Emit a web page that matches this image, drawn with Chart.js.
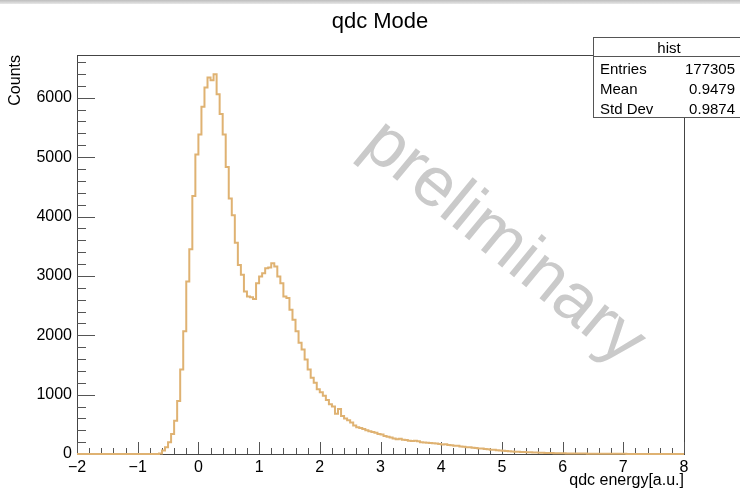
<!DOCTYPE html>
<html>
<head>
<meta charset="utf-8">
<title>qdc Mode</title>
<script src="https://cdn.jsdelivr.net/npm/chart.js@4.4.0/dist/chart.umd.min.js"></script>
<style>
  html, body { margin: 0; padding: 0; background: #fff; }
  #wrap { position: relative; width: 740px; height: 490px; }
  #topStrip { position: absolute; left: 0; top: 0; width: 740px; height: 4px;
    background: linear-gradient(#bdbdbd, #e8e8e8); }
</style>
</head>
<body>
<div id="wrap">
  <canvas id="histChart" width="740" height="490"></canvas>
  <div id="topStrip"></div>
</div>
<script>
// histogram: 200 bins of 0.05 between -2 and 8
const xRange = [-2, 8];
const binWidth = 0.05;
const counts = [
  // -2 .. -1
  0,0,0,0,0,0,0,0,0,0, 0,0,0,0,0,0,0,0,0,0,
  // -1 .. 0
  0,0,0,0,0,0,0,0,10,60, 112,196,335,558,893,1425,2067,2905,3447,4346,
  // 0 .. 1
  5044,5380,5849,6172,6340,6296,6397,6060,5726,5380, 4832,4302,4022,3558,3184,3017,2737,2653,2640,2609,
  // 1 .. 2
  2877,2988,3045,3129,3140,3213,3156,2988,2877,2653, 2626,2430,2262,2067,1872,1760,1592,1425,1285,1201,
  // 2 .. 3
  1090,1040,980,910,840,800,680,760,640,600, 570,530,480,450,440,420,400,385,370,360,
  // 3 .. 4
  335,330,305,290,280,260,250,255,240,235, 225,220,225,215,200,195,190,185,180,175,
  // 4 .. 5
  170,160,165,150,148,138,140,126,124,115, 112,104,102,93,92,84,80,73,70,63,
  // 5 .. 6
  58,55,50,46,43,40,38,35,32,30, 28,26,24,22,20,18,17,16,14,13,
  // 6 .. 7
  12,11,10,9,9,8,8,7,7,6, 6,5,5,5,4,4,4,3,3,3,
  // 7 .. 8
  3,3,2,2,2,2,2,1,1,1, 1,1,1,1,0,1,0,0,0,0
];
const yMax = 6720;
const xTickValues = [-2, -1, 0, 1, 2, 3, 4, 5, 6, 7, 8];
const yTickValues = [0, 1000, 2000, 3000, 4000, 5000, 6000];
const xMinorStep = 0.2;
const yMinorStep = 200;

const titleText = "qdc Mode";
const xTitle = "qdc energy[a.u.]";
const yTitle = "Counts";
const statsName = "hist";
const statLabels = ["Entries", "Mean", "Std Dev"];
const statValues = ["177305", "0.9479", "0.9874"];
const watermark = "preliminary";

const FONT = "'Liberation Sans', Arial, Helvetica, sans-serif";
const lineColor = "#dfb272";

// bin low edges + closing edge for the step line
const points = counts.map((c, i) => ({ x: xRange[0] + i * binWidth, y: c }));
points.push({ x: xRange[1], y: counts[counts.length - 1] });

function fmt(v) {
  return v < 0 ? "\u2212" + Math.abs(v) : String(v);
}

const rootStyle = {
  id: "rootStyle",
  beforeDatasetsDraw(chart) {
    const ctx = chart.ctx;
    const a = chart.chartArea;
    const xs = chart.scales.x, ys = chart.scales.y;
    ctx.save();

    // watermark
    ctx.save();
    ctx.translate(503, 243);
    ctx.rotate(39.5 * Math.PI / 180);
    ctx.font = "70px " + FONT;
    ctx.fillStyle = "#cacaca";
    ctx.textAlign = "center";
    ctx.textBaseline = "middle";
    ctx.fillText(watermark, 0, 0);
    ctx.restore();

    // frame
    ctx.strokeStyle = "#444";
    ctx.lineWidth = 1;
    ctx.strokeRect(Math.round(a.left) + 0.5, Math.round(a.top) + 0.5,
      Math.round(a.right - a.left), Math.round(a.bottom - a.top));

    // ticks inside the frame
    ctx.strokeStyle = "#555";
    ctx.beginPath();
    for (let i = 0; i * yMinorStep <= yMax; i++) {
      const y = Math.round(ys.getPixelForValue(i * yMinorStep)) + 0.5;
      const len = (i % 5 === 0) ? 18 : 9;
      ctx.moveTo(a.left, y);
      ctx.lineTo(a.left + len, y);
    }
    for (let i = 0; xRange[0] + i * xMinorStep <= xRange[1] + 1e-6; i++) {
      const x = Math.round(xs.getPixelForValue(xRange[0] + i * xMinorStep)) + 0.5;
      const len = (i % 5 === 0) ? 12 : 6;
      ctx.moveTo(x, a.bottom);
      ctx.lineTo(x, a.bottom - len);
    }
    ctx.stroke();
    ctx.restore();
  },
  afterDraw(chart) {
    const ctx = chart.ctx;
    const a = chart.chartArea;
    ctx.save();
    ctx.fillStyle = "#000";

    // title
    ctx.font = "22px " + FONT;
    ctx.textAlign = "center";
    ctx.textBaseline = "alphabetic";
    ctx.fillText(titleText, 380, 28);

    // x title, right aligned at axis end
    ctx.font = "16px " + FONT;
    ctx.textAlign = "right";
    ctx.fillText(xTitle, a.right, 485);

    // y title, rotated, at top of axis
    ctx.save();
    ctx.translate(20, a.top);
    ctx.rotate(-Math.PI / 2);
    ctx.textAlign = "right";
    ctx.fillText(yTitle, 0, 0);
    ctx.restore();

    // stats box
    const bx = 593.5, by = 37.5, bw = 160, bh = 80;
    ctx.fillStyle = "#fff";
    ctx.fillRect(bx, by, bw, bh);
    ctx.strokeStyle = "#555";
    ctx.lineWidth = 1;
    ctx.strokeRect(bx, by, bw, bh);
    ctx.beginPath();
    ctx.moveTo(bx, 56.5);
    ctx.lineTo(bx + bw, 56.5);
    ctx.stroke();
    ctx.fillStyle = "#000";
    ctx.font = "15px " + FONT;
    ctx.textAlign = "center";
    ctx.fillText(statsName, 669, 53);
    statLabels.forEach((lab, i) => {
      const y = 74 + i * 20;
      ctx.textAlign = "left";
      ctx.fillText(lab, 600, y);
      ctx.textAlign = "right";
      ctx.fillText(statValues[i], 735, y);
    });
    ctx.restore();
  }
};

new Chart(document.getElementById("histChart"), {
  type: "line",
  data: {
    datasets: [{
      data: points,
      stepped: "after",
      borderColor: lineColor,
      borderWidth: 2,
      pointRadius: 0,
      fill: false,
      clip: false
    }]
  },
  options: {
    responsive: false,
    animation: false,
    layout: { padding: { top: 55, right: 56, left: 0, bottom: 0 } },
    plugins: { legend: { display: false }, tooltip: { enabled: false }, title: { display: false } },
    scales: {
      x: {
        type: "linear",
        min: xRange[0],
        max: xRange[1],
        grid: { display: false, drawTicks: false },
        border: { display: false },
        ticks: {
          maxRotation: 0,
          autoSkip: false,
          padding: 4,
          color: "#000",
          font: { family: FONT, size: 16 },
          callback: v => fmt(v)
        },
        afterBuildTicks: s => { s.ticks = xTickValues.map(v => ({ value: v })); },
        afterFit: s => { s.height = 36; }
      },
      y: {
        min: 0,
        max: yMax,
        grid: { display: false, drawTicks: false },
        border: { display: false },
        ticks: {
          autoSkip: false,
          padding: 5,
          color: "#000",
          font: { family: FONT, size: 16 },
          callback: v => fmt(v)
        },
        afterBuildTicks: s => { s.ticks = yTickValues.map(v => ({ value: v })); },
        afterFit: s => { s.width = 77; }
      }
    }
  },
  plugins: [rootStyle]
});
</script>
</body>
</html>
